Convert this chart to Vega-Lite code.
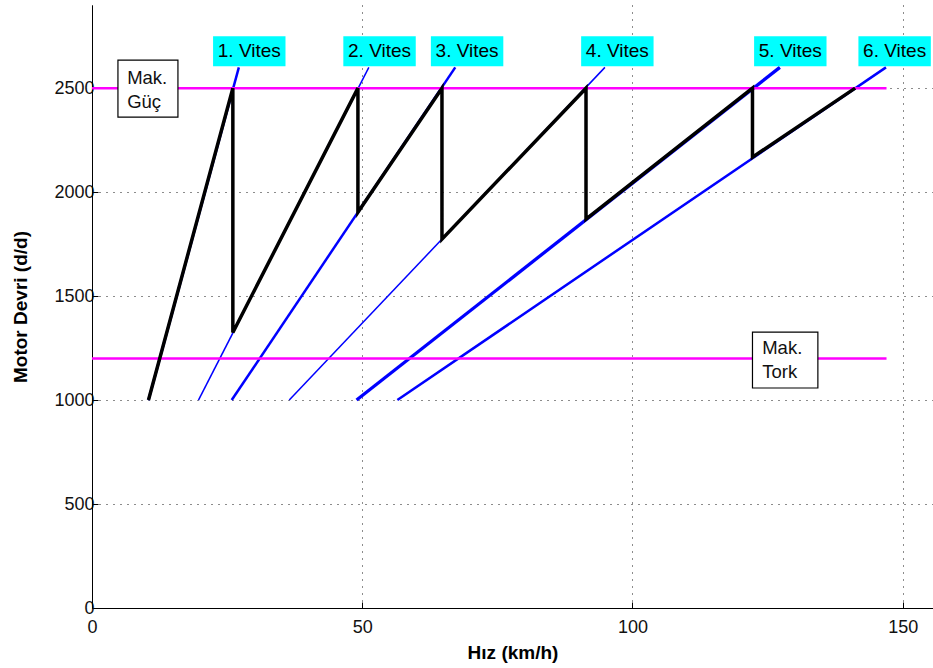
{
  "$schema": "https://vega.github.io/schema/vega-lite/v6.json",
  "autosize": "none",
  "width": 841,
  "height": 603,
  "padding": {"left": 92, "top": 5, "right": 0, "bottom": 60},
  "background": "white",
  "config": {
    "view": {"stroke": null},
    "font": "Liberation Sans",
    "axis": {
      "domainColor": "#000000",
      "domainWidth": 1,
      "tickColor": "#000000",
      "tickSize": -6,
      "labelFlush": false,
      "labelOverlap": false,
      "labelFont": "Liberation Sans",
      "labelFontSize": 18,
      "labelColor": "#111111",
      "titleFont": "Liberation Sans",
      "titleFontSize": 19,
      "titleFontWeight": "bold",
      "titleColor": "#000000",
      "grid": true,
      "gridColor": "#000000",
      "gridDash": [1, 6],
      "gridWidth": 1,
      "gridOpacity": 0.9
    }
  },
  "datasets": {
    "blue": [
      {"gear": 1, "speed": 10.45, "rpm": 1000}, {"gear": 1, "speed": 27.17, "rpm": 2600},
      {"gear": 2, "speed": 19.7, "rpm": 1000}, {"gear": 2, "speed": 51.22, "rpm": 2600},
      {"gear": 3, "speed": 25.85, "rpm": 1000}, {"gear": 3, "speed": 67.21, "rpm": 2600},
      {"gear": 4, "speed": 36.5, "rpm": 1000}, {"gear": 4, "speed": 94.9, "rpm": 2600},
      {"gear": 5, "speed": 48.95, "rpm": 1000}, {"gear": 5, "speed": 127.27, "rpm": 2600},
      {"gear": 6, "speed": 56.5, "rpm": 1000}, {"gear": 6, "speed": 146.9, "rpm": 2600}
    ],
    "black": [
      {"i": 1, "speed": 10.45, "rpm": 1000},
      {"i": 2, "speed": 26.06, "rpm": 2500},
      {"i": 3, "speed": 26.06, "rpm": 1325},
      {"i": 4, "speed": 49.2, "rpm": 2500},
      {"i": 5, "speed": 49.2, "rpm": 1903},
      {"i": 6, "speed": 64.75, "rpm": 2500},
      {"i": 7, "speed": 64.75, "rpm": 1774},
      {"i": 8, "speed": 91.4, "rpm": 2500},
      {"i": 9, "speed": 91.4, "rpm": 1870},
      {"i": 10, "speed": 122.2, "rpm": 2500},
      {"i": 11, "speed": 122.2, "rpm": 2168},
      {"i": 12, "speed": 141.2, "rpm": 2500}
    ],
    "limits": [
      {"name": "Güç", "speed": 0, "rpm": 2500}, {"name": "Güç", "speed": 147, "rpm": 2500},
      {"name": "Tork", "speed": 0, "rpm": 1200}, {"name": "Tork", "speed": 147, "rpm": 1200}
    ],
    "boxes": [
      {"label": "Mak.\nGüç", "x1": 4.8, "x2": 15.9, "y1": 2361, "y2": 2635, "tx": 6.5, "ty": 2550},
      {"label": "Mak.\nTork", "x1": 122.2, "x2": 134.3, "y1": 1058, "y2": 1327, "tx": 124.0, "ty": 1250}
    ],
    "gears": [
      {"label": "1. Vites", "x1": 22.4, "x2": 35.8, "cx": 29.1, "y1": 2606, "y2": 2750, "cy": 2678},
      {"label": "2. Vites", "x1": 46.5, "x2": 59.9, "cx": 53.2, "y1": 2606, "y2": 2750, "cy": 2678},
      {"label": "3. Vites", "x1": 62.7, "x2": 76.1, "cx": 69.4, "y1": 2606, "y2": 2750, "cy": 2678},
      {"label": "4. Vites", "x1": 90.5, "x2": 103.9, "cx": 97.2, "y1": 2606, "y2": 2750, "cy": 2678},
      {"label": "5. Vites", "x1": 122.5, "x2": 135.9, "cx": 129.2, "y1": 2606, "y2": 2750, "cy": 2678},
      {"label": "6. Vites", "x1": 141.8, "x2": 155.2, "cx": 148.5, "y1": 2606, "y2": 2750, "cy": 2678}
    ]
  },
  "layer": [
    {
      "data": {"name": "blue"},
      "transform": [{"filter": "datum.gear == 2 || datum.gear == 4"}],
      "mark": {"type": "line", "color": "#0000FF", "strokeWidth": 1.5},
      "encoding": {
        "x": {
          "field": "speed", "type": "quantitative",
          "scale": {"domain": [0, 155.6], "nice": false, "zero": false},
          "axis": {"values": [0, 50, 100, 150], "format": "d", "title": "Hız (km/h)", "titleY": 44, "titleBaseline": "middle", "labelPadding": 16}
        },
        "y": {
          "field": "rpm", "type": "quantitative",
          "scale": {"domain": [0, 2900], "nice": false},
          "axis": {"values": [0, 500, 1000, 1500, 2000, 2500], "format": "d", "title": "Motor Devri (d/d)", "titleX": -72, "titleBaseline": "middle", "labelPadding": 4}
        },
        "detail": {"field": "gear", "type": "nominal"}
      }
    },
    {
      "data": {"name": "blue"},
      "transform": [{"filter": "datum.gear == 1 || datum.gear == 3 || datum.gear == 6"}],
      "mark": {"type": "line", "color": "#0000FF", "strokeWidth": 2.5},
      "encoding": {
        "x": {"field": "speed", "type": "quantitative"},
        "y": {"field": "rpm", "type": "quantitative"},
        "detail": {"field": "gear", "type": "nominal"}
      }
    },
    {
      "data": {"name": "blue"},
      "transform": [{"filter": "datum.gear == 5"}],
      "mark": {"type": "line", "color": "#0000FF", "strokeWidth": 3.3},
      "encoding": {
        "x": {"field": "speed", "type": "quantitative"},
        "y": {"field": "rpm", "type": "quantitative"},
        "detail": {"field": "gear", "type": "nominal"}
      }
    },
    {
      "data": {"name": "limits"},
      "mark": {"type": "line", "color": "#FF00FF", "strokeWidth": 2.5},
      "encoding": {
        "x": {"field": "speed", "type": "quantitative"},
        "y": {"field": "rpm", "type": "quantitative"},
        "detail": {"field": "name", "type": "nominal"}
      }
    },
    {
      "data": {"name": "black"},
      "mark": {"type": "line", "color": "#000000", "strokeWidth": 3.5, "strokeJoin": "miter"},
      "encoding": {
        "x": {"field": "speed", "type": "quantitative"},
        "y": {"field": "rpm", "type": "quantitative"},
        "order": {"field": "i", "type": "quantitative"}
      }
    },
    {
      "data": {"name": "boxes"},
      "mark": {"type": "rect", "fill": "white", "stroke": "#000000", "strokeWidth": 1.2},
      "encoding": {
        "x": {"field": "x1", "type": "quantitative"},
        "x2": {"field": "x2"},
        "y": {"field": "y1", "type": "quantitative"},
        "y2": {"field": "y2"}
      }
    },
    {
      "data": {"name": "boxes"},
      "mark": {"type": "text", "align": "left", "baseline": "middle", "fontSize": 18.5, "lineBreak": "\n", "lineHeight": 24, "color": "#111111"},
      "encoding": {
        "x": {"field": "tx", "type": "quantitative"},
        "y": {"field": "ty", "type": "quantitative"},
        "text": {"field": "label"}
      }
    },
    {
      "data": {"name": "gears"},
      "mark": {"type": "rect", "fill": "#00FFFF"},
      "encoding": {
        "x": {"field": "x1", "type": "quantitative"},
        "x2": {"field": "x2"},
        "y": {"field": "y1", "type": "quantitative"},
        "y2": {"field": "y2"}
      }
    },
    {
      "data": {"name": "gears"},
      "mark": {"type": "text", "align": "center", "baseline": "middle", "fontSize": 19, "color": "#000000"},
      "encoding": {
        "x": {"field": "cx", "type": "quantitative"},
        "y": {"field": "cy", "type": "quantitative"},
        "text": {"field": "label"}
      }
    }
  ]
}
